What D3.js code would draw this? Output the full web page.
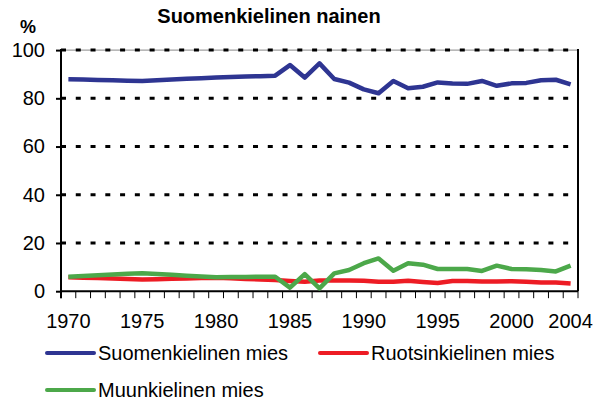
<!DOCTYPE html>
<html><head><meta charset="utf-8">
<script src="https://cdn.jsdelivr.net/npm/d3@7"></script>
<style>body{margin:0;background:#fff}text{font-family:"Liberation Sans",Arial,sans-serif;fill:#000}</style>
</head><body>
<script>
const years = d3.range(1970, 2005);
const suomi = [87.9,87.8,87.6,87.5,87.3,87.2,87.5,87.8,88.1,88.3,88.6,88.8,89.0,89.2,89.4,93.8,88.6,94.5,88.0,86.5,83.7,82.1,87.2,84.2,84.8,86.6,86.1,86.0,87.2,85.2,86.2,86.4,87.5,87.7,85.8];
const ruotsi = [5.8,5.6,5.5,5.3,5.1,4.9,5.0,5.2,5.3,5.5,5.6,5.4,5.1,4.9,4.6,4.2,3.9,4.4,4.4,4.4,4.3,3.9,3.9,4.3,3.8,3.4,4.2,4.2,4.0,4.0,4.1,3.9,3.6,3.6,3.2];
const muu = [6.0,6.3,6.6,6.9,7.2,7.4,7.1,6.8,6.4,6.1,5.8,5.9,5.9,6.0,6.0,1.5,7.1,1.2,7.4,8.8,11.6,13.6,8.5,11.6,11.0,9.2,9.2,9.2,8.4,10.6,9.2,9.1,8.8,8.2,10.6];
const yTicks = [0,20,40,60,80,100];
const xLabels = [1970,1975,1980,1985,1990,1995,2000,2004];
const seriesNames = ["Suomenkielinen mies","Ruotsinkielinen mies","Muunkielinen mies"];
const colors = ["#2E3592","#ED1C24","#4CA84A"];
const title = "Suomenkielinen nainen";

const W=603,H=403, L=61, R=578, T=50.1, B=291.2;
const svg = d3.select("body").append("svg").attr("width",W).attr("height",H);
const x = d3.scaleBand().domain(years).range([L,R]).padding(0);
const y = d3.scaleLinear().domain([0,100]).range([B,T]);
const cx = d => x(d)+x.bandwidth()/2;

// title & unit
svg.append("text").attr("x",269).attr("y",23).attr("text-anchor","middle")
  .style("font-weight","bold").style("font-size","20px").text(title);
svg.append("text").attr("x",20).attr("y",33).style("font-weight","bold").style("font-size","18px").text("%");

// top frame
svg.append("line").attr("x1",L).attr("x2",R).attr("y1",y(100)).attr("y2",y(100)).attr("stroke","#888").attr("stroke-width",1);
// gridlines
svg.append("g").selectAll("line").data(yTicks.filter(d=>d>0)).join("line")
  .attr("x1",L).attr("x2",R).attr("y1",d=>y(d)).attr("y2",d=>y(d))
  .attr("stroke","#000").attr("stroke-width",3).attr("stroke-dasharray","5,9.77");
// right border
svg.append("line").attr("x1",R).attr("x2",R).attr("y1",y(100)-1).attr("y2",y(0)).attr("stroke","#000").attr("stroke-width",2);

// y axis
const ya = svg.append("g").attr("transform",`translate(${L},0)`)
  .call(d3.axisLeft(y).tickValues(yTicks).tickSize(5).tickPadding(11));
ya.select(".domain").remove();
ya.selectAll(".tick line").attr("stroke","#000").attr("stroke-width",2);
ya.selectAll(".tick text").style("font-size","20px").style("font-family","Liberation Sans, Arial, sans-serif").attr("fill","#000");
svg.append("line").attr("x1",L).attr("x2",L).attr("y1",y(100)-1).attr("y2",y(0)+7).attr("stroke","#000").attr("stroke-width",2);

// x axis
const boundaries = years.map(d=>x(d)).concat([R]);
svg.append("g").selectAll("line").data(boundaries).join("line")
  .attr("x1",d=>d).attr("x2",d=>d).attr("y1",y(0)).attr("y2",y(0)+7).attr("stroke","#000").attr("stroke-width",1);
svg.append("line").attr("x1",L).attr("x2",R).attr("y1",y(0)).attr("y2",y(0)).attr("stroke","#000").attr("stroke-width",2);
svg.append("g").selectAll("text").data(xLabels).join("text")
  .attr("x",d=>cx(d)).attr("y",328).attr("text-anchor","middle").style("font-size","20px").text(d=>d);

// lines
const line = d3.line().x((d,i)=>cx(years[i])).y(d=>y(d));
const order = [1,2,0];
const data = [suomi,ruotsi,muu];
order.forEach(i=>{
  svg.append("path").datum(data[i]).attr("d",line).attr("fill","none")
    .attr("stroke",colors[i]).attr("stroke-width",4.5).attr("stroke-linejoin","round");
});

// legend
const leg = [{i:0,x:47,y:353},{i:1,x:320,y:353},{i:2,x:47,y:390}];
leg.forEach(l=>{
  svg.append("line").attr("x1",l.x).attr("x2",l.x+47).attr("y1",l.y).attr("y2",l.y)
    .attr("stroke",colors[l.i]).attr("stroke-width",4).attr("stroke-linecap","round");
  svg.append("text").attr("x",l.x+51).attr("y",l.y+7).style("font-size","20px").text(seriesNames[l.i]);
});
</script>
</body></html>
